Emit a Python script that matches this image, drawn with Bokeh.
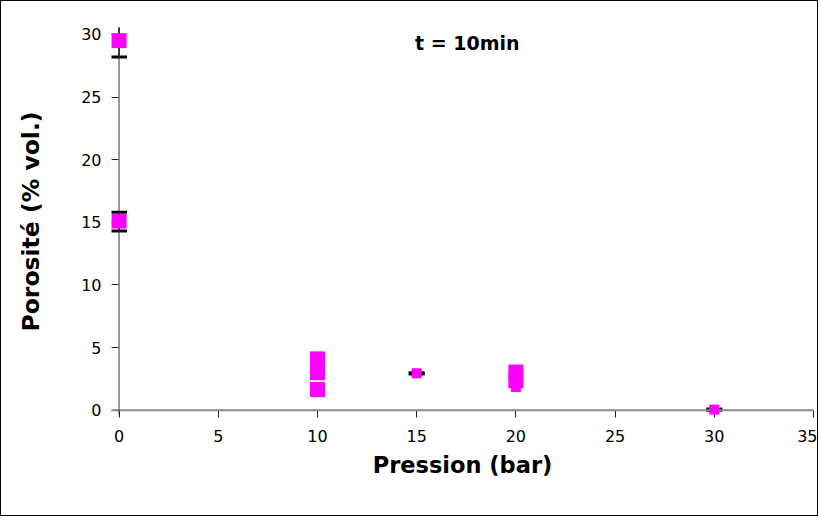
from bokeh.plotting import figure
from bokeh.models import Range1d, FixedTicker, Label, Span
from bokeh.embed import file_html
from bokeh.resources import INLINE

# ---- data ----
pression_a = [0, 0, 10, 10, 10, 20, 20]
porosite_a = [29.5, 15.1, 4.1, 3.0, 1.65, 3.05, 2.35]

pression_b = [15, 20, 30]
porosite_b = [2.95, 1.85, 0.05]

err_x = [0, 0, 15, 30]
err_low = [28.2, 14.3, 2.9, 0.0]
err_high = [30.8, 15.8, 3.0, 0.1]

x_ticks = [0, 5, 10, 15, 20, 25, 30, 35]
y_ticks = [0, 5, 10, 15, 20, 25, 30]

title_text = "t = 10min"
x_title = "Pression (bar)"
y_title = "Porosité (% vol.)"

FONT = "DejaVu Sans"
MAGENTA = "#FF00FF"

p = figure(
    output_backend="svg", toolbar_location=None,
    frame_width=702, frame_height=388,
    min_border_left=110, min_border_top=26, min_border_right=4, min_border_bottom=100,
    x_range=Range1d(-0.38, 35), y_range=Range1d(-0.42, 30.55),
)
p.styles = {"border": "1px solid #000000"}
p.grid.visible = False
p.outline_line_color = None
p.background_fill_color = "white"
p.border_fill_color = "white"

# axes
for ax, ticks in ((p.xaxis[0], x_ticks), (p.yaxis[0], y_ticks)):
    ax.ticker = FixedTicker(ticks=ticks)
    ax.minor_tick_line_color = None
    ax.axis_line_color = None
    ax.major_label_text_font = FONT
    ax.major_label_text_font_size = "16px"
    ax.major_label_text_color = "black"
    ax.axis_label_text_font = FONT
    ax.axis_label_text_font_style = "bold"
    ax.axis_label_text_color = "black"
    ax.major_tick_line_color = "#222222"

p.xaxis.axis_label_text_font_size = "22.5px"
p.yaxis.axis_label_text_font_size = "23.5px"
p.yaxis.major_tick_in = 7
p.yaxis.major_tick_out = 0
p.yaxis.major_label_standoff = 10
p.xaxis.major_tick_in = 5
p.xaxis.major_tick_out = 2
p.xaxis.major_label_standoff = 12
p.xaxis.axis_label = x_title
p.yaxis.axis_label = y_title
p.xaxis.axis_label_standoff = 7
p.yaxis.axis_label_standoff = 33

# axis lines at the data origin
p.add_layout(Span(location=0, dimension="width", line_color="#888888", line_width=2))
p.add_layout(Span(location=0, dimension="height", line_color="#333333", line_width=1))

# error bars
p.segment(x0=err_x, y0=err_low, x1=err_x, y1=err_high, line_color="black", line_width=1.5)
p.scatter(err_x, err_low, marker="dash", size=16, line_color="black", line_width=3)
p.scatter(err_x, err_high, marker="dash", size=16, line_color="black", line_width=3)

# points
ra = p.scatter(pression_a, porosite_a, marker="square", size=15,
               fill_color=MAGENTA, line_color=MAGENTA, line_width=0)
rb = p.scatter(pression_b, porosite_b, marker="square", size=10,
               fill_color=MAGENTA, line_color=MAGENTA, line_width=0)
ra.level = "overlay"
rb.level = "overlay"

p.add_layout(Label(x=17.55, y=29.3, text=title_text, text_font=FONT,
                   text_font_size="19px", text_font_style="bold",
                   text_align="center", text_baseline="middle", text_color="black"))

open("out.html", "w").write(file_html(p, INLINE))
